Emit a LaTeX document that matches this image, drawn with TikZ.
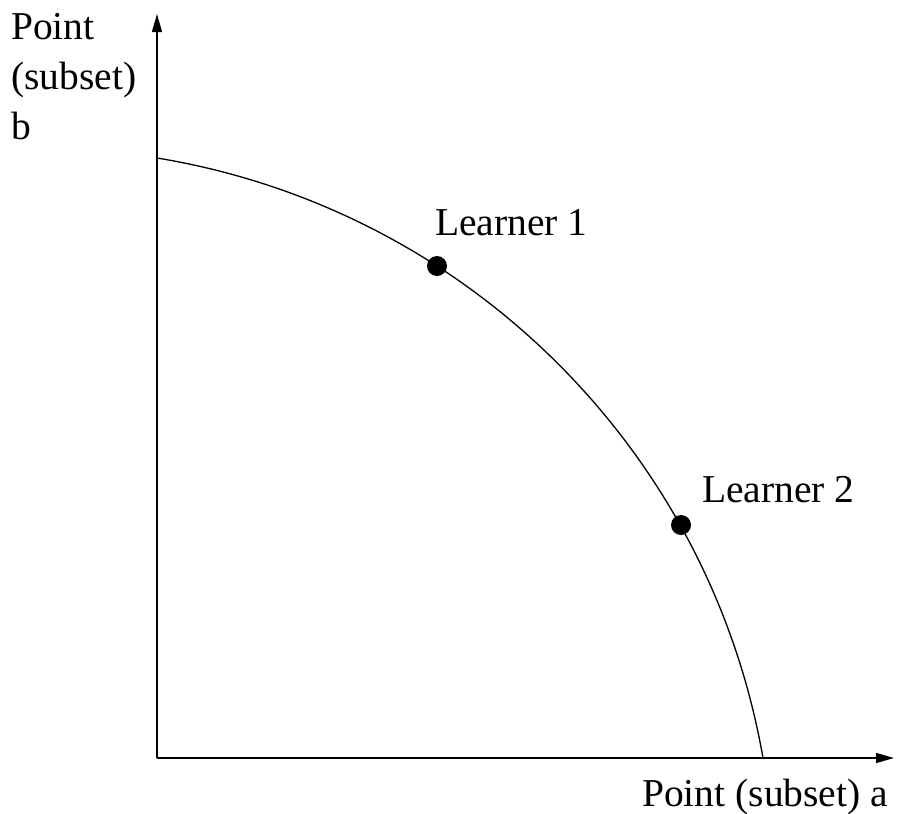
\documentclass[tikz,border=0pt]{standalone}
\usepackage{fontspec}
\setmainfont{Liberation Serif}
\usetikzlibrary{arrows.meta}
\begin{document}
\begin{tikzpicture}[x=1pt,y=-1pt,
  axis/.style={line width=1.5pt,-{Triangle[length=18pt,width=10pt]}},
  curve/.style={line width=1.3pt},
  learner/.style={circle,fill=black,inner sep=0pt,minimum size=20pt},
  lbl/.style={font=\fontsize{39.5}{50}\selectfont,inner sep=0pt}]
\useasboundingbox (0,0) rectangle (898,814);
\coordinate (O) at (157,758);
\coordinate (ytop) at (157,14);
\coordinate (xend) at (894,758);
\coordinate (cstart) at (157,158);
\draw[axis] (O) -- (ytop);
\draw[axis] (O) -- (xend);
\draw[curve] (cstart) arc[start angle=80.66, end angle=9.9, radius=736.5pt];
\node[learner] (l1) at (437,266) {};
\node[learner] (l2) at (681,525) {};
\node[lbl,anchor=base west] (t1) at (435,235) {Learner 1};
\node[lbl,anchor=base west] (t2) at (702,502) {Learner 2};
\node[lbl,anchor=base west] (xl) at (642,806) {Point (subset) a};
\node[lbl,anchor=north west,align=left] (yl) at (11,13) {Point\\(subset)\\b};
\end{tikzpicture}
\end{document}
